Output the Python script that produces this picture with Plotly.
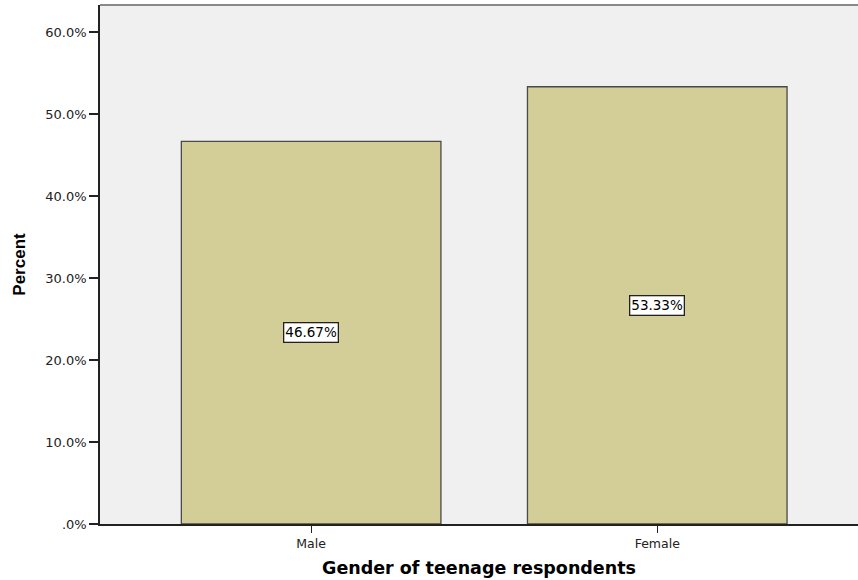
import plotly.graph_objects as go

categories = ["Male", "Female"]
percents = [46.67, 53.33]
labels = ["46.67%", "53.33%"]
y_ticks = [0, 10, 20, 30, 40, 50, 60]
y_tick_labels = [".0%", "10.0%", "20.0%", "30.0%", "40.0%", "50.0%", "60.0%"]

TICKFONT = "DejaVu Sans, Verdana, sans-serif"

fig = go.Figure()
fig.add_trace(go.Bar(
    x=[0, 1], y=percents,
    width=0.75,
    marker=dict(color="#d3cd98", line=dict(color="#4a4a4a", width=1.3)),
    hoverinfo="skip",
))

for i, (v, t) in enumerate(zip(percents, labels)):
    fig.add_annotation(
        x=i, y=v / 2, text=t, showarrow=False,
        font=dict(family=TICKFONT, size=13.5, color="black"),
        bgcolor="white", bordercolor="#222222", borderwidth=1.3, borderpad=1,
    )

fig.update_layout(
    width=858, height=580,
    margin=dict(l=100, r=0, t=5, b=56),
    paper_bgcolor="white",
    plot_bgcolor="#f0f0f0",
    showlegend=False,
    font=dict(family=TICKFONT, size=13, color="#222222"),
    xaxis=dict(
        range=[-0.61, 1.58],
        tickmode="array", tickvals=[0, 1], ticktext=categories,
        ticks="outside", ticklen=7, tickcolor="#222222", tickwidth=1.3,
        showline=True, linecolor="#222222", linewidth=1.5,
        showgrid=False, zeroline=False,
        title=dict(text="<b>Gender of teenage respondents</b>",
                   font=dict(family="DejaVu Sans, Verdana, sans-serif", size=17.5, color="black"),
                   standoff=12),
        tickfont=dict(size=12.5),
    ),
    yaxis=dict(
        range=[0, 63.3],
        tickmode="array", tickvals=y_ticks, ticktext=y_tick_labels,
        ticks="outside", ticklen=9, tickcolor="#222222", tickwidth=1.5,
        showline=True, linecolor="#222222", linewidth=1.5,
        showgrid=False, zeroline=False,
        title=dict(text="<b>Percent</b>",
                   font=dict(family="Liberation Sans, Arial, sans-serif", size=17, color="black"),
                   standoff=15),
        tickfont=dict(size=13),
    ),
)
fig.add_shape(type="line", xref="paper", yref="paper", x0=0, x1=1, y0=1, y1=1,
              line=dict(color="#888888", width=2))

fig.write_html("out.html", config={"displayModeBar": False},
               post_script="document.body.style.margin='0px';")
